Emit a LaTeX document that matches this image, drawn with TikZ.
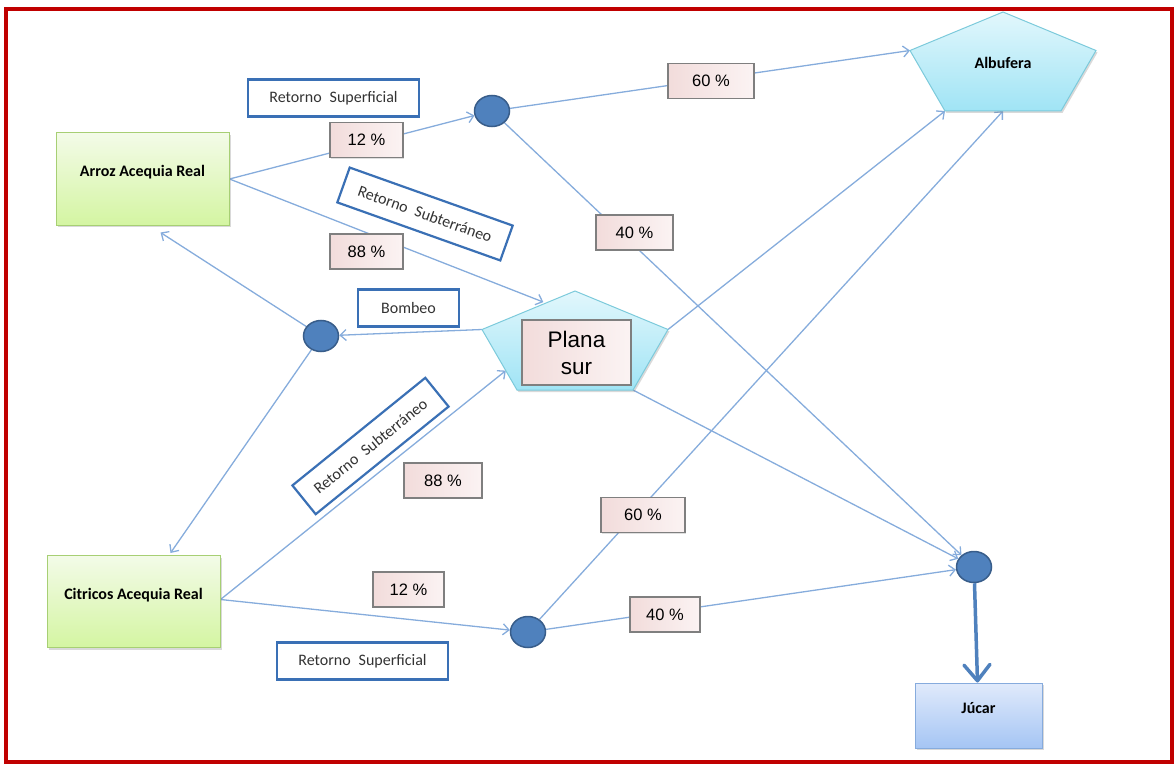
\documentclass[tikz,border=0pt]{standalone}
\usepackage{fontspec}
\setmainfont{Carlito}
\newfontfamily\arial{Liberation Sans}
\usetikzlibrary{arrows.meta,shapes.geometric,shadows,calc}

\definecolor{flujo}{HTML}{86ACDC}
\definecolor{nudo}{HTML}{4F81BD}
\definecolor{nudoborde}{HTML}{385D8A}
\definecolor{etiqueta}{HTML}{3A70B5}
\definecolor{marco}{HTML}{C00000}
\definecolor{texto}{HTML}{333333}
\definecolor{verdearriba}{HTML}{F3FBE8}
\definecolor{verdeabajo}{HTML}{D4F5A2}
\definecolor{verdeborde}{HTML}{A7CF74}
\definecolor{aguaarriba}{HTML}{E2F7FC}
\definecolor{aguaabajo}{HTML}{A0E4F5}
\definecolor{aguaborde}{HTML}{7CCADB}
\definecolor{rioarriba}{HTML}{E0EAFB}
\definecolor{rioabajo}{HTML}{A5C5F4}
\definecolor{rioborde}{HTML}{86ABDD}
\definecolor{rosa}{HTML}{F2DCDB}
\definecolor{rosaclaro}{HTML}{FBF3F3}
\definecolor{gris}{HTML}{7F7F7F}

\pgfdeclarelayer{fondo}
\pgfsetlayers{fondo,main}

\tikzset{
  flecha/.style={draw=flujo, line width=1.3pt, -{Straight Barb[length=6pt,width=11pt]}},
  grueso/.style={draw=nudo, line width=3.5pt,
    -{Straight Barb[length=16pt,width=26pt,line join=round,line cap=round]}},
  nudo/.style={ellipse, draw=nudoborde, line width=1.5pt, fill=nudo,
    minimum width=35pt, minimum height=31pt, inner sep=0pt},
  cultivo/.style={rectangle, draw=verdeborde, line width=1pt,
    top color=verdearriba, bottom color=verdeabajo,
    minimum width=173pt, minimum height=92pt,
    font=\fontsize{16}{19}\selectfont\bfseries, text height=10pt, text depth=15pt,
    drop shadow={shadow xshift=1.5pt, shadow yshift=-2pt, opacity=0.3}},
  porcentaje/.style={rectangle, draw=gris, line width=1.2pt,
    left color=rosa, right color=rosaclaro, minimum height=35pt, inner sep=0pt,
    font=\arial\fontsize{16.5}{19}\selectfont,
    drop shadow={shadow xshift=1pt, shadow yshift=-1pt, opacity=0.25}},
  retorno/.style={rectangle, draw=etiqueta, line width=2.2pt, fill=white,
    minimum height=37pt, inner sep=0pt, text=texto,
    font=\fontsize{16}{19}\selectfont},
  lago/.style={draw=aguaborde, line width=1pt, top color=aguaarriba, bottom color=aguaabajo,
    drop shadow={shadow xshift=1.5pt, shadow yshift=-2pt, opacity=0.3}},
  %% pentagono aplastado, con sus vertices con nombre
  pentagono/.pic={
    \path[lago] (0,0) coordinate (-t) -- (93,38.5) coordinate (-r)
      -- (58,99) coordinate (-bd) -- (-58,99) coordinate (-bi)
      -- (-93,38.5) coordinate (-l) -- cycle;
  }
}

\begin{document}
\begin{tikzpicture}[x=1pt, y=-1pt]
  \useasboundingbox (0,0) rectangle (1175,765);
  \draw[marco, line width=4pt] (6,9.5) rectangle (1172,762);

  %% cultivos, masas de agua y rio
  \node[cultivo] (arroz) at (142.5,179) {Arroz Acequia Real};
  \node[cultivo] (citricos) at (133.5,601.5) {Citricos Acequia Real};

  \pic (alb) at (1003,12) {pentagono};
  \node[font=\fontsize{16}{19}\selectfont\bfseries] (albufera) at (1003,63) {Albufera};

  \pic (pl) at (575,291) {pentagono};
  \node[porcentaje, minimum width=109pt, minimum height=65pt, align=center,
    font=\arial\fontsize{22.5}{27}\selectfont] (plana) at (576.5,352.5) {Plana\\sur};

  \node[cultivo, draw=rioborde, top color=rioarriba, bottom color=rioabajo,
    minimum width=127pt, minimum height=65pt] (jucar) at (978.5,715.5) {Júcar};

  %% nudos de reparto
  \node[nudo] (nudo-arroz) at (492,111) {};
  \node[nudo] (nudo-bombeo) at (321,336) {};
  \node[nudo] (nudo-citricos) at (528,632) {};
  \node[nudo] (nudo-jucar) at (974,567) {};

  %% puntos de llegada sobre los pentagonos
  \coordinate (pl-norte) at ($(pl-l)!0.66!(pl-t)+(0,-2)$);
  \coordinate (pl-oeste) at ($(pl-l)!0.68!(pl-bi)$);
  \coordinate (alb-s) at ($(alb-bi)!0.5!(alb-bd)$);

  \begin{pgfonlayer}{fondo}
    \draw[flecha] (arroz.east) -- (nudo-arroz);
    \draw[flecha] (arroz.east) -- (pl-norte);
    \draw[flecha] (nudo-arroz) -- (alb-l);
    \draw[flecha] (nudo-arroz) -- (nudo-jucar);
    \draw[flecha] (pl-l) -- (nudo-bombeo);
    \draw[flecha] (nudo-bombeo) -- ([xshift=18pt,yshift=-7pt]arroz.south);
    \draw[flecha] (nudo-bombeo) -- ([xshift=37pt,yshift=2pt]citricos.north);
    \draw[flecha] (pl-r) -- (alb-bi);
    \draw[flecha] (pl-bd) -- (nudo-jucar);
    \draw[flecha] ([yshift=2pt]citricos.east) -- (pl-oeste);
    \draw[flecha] ([yshift=2pt]citricos.east) -- (nudo-citricos);
    \draw[flecha] (nudo-citricos) -- (alb-s);
    \draw[flecha] (nudo-citricos) -- (nudo-jucar);
  \end{pgfonlayer}
  \draw[grueso] (nudo-jucar) -- (jucar);

  %% etiquetas de los retornos
  \node[retorno, minimum width=171pt] (sup-arroz) at (333.5,98) {Retorno\hspace{8pt}Superficial};
  \node[retorno, minimum width=173pt, rotate=-19.6] (sub-arroz) at (425,214) {Retorno\hspace{8pt}Subterráneo};
  \node[retorno, minimum width=101pt] (bombeo) at (408.5,308) {Bombeo};
  \node[retorno, minimum width=171pt, rotate=39] (sub-citricos) at (370.5,446) {Retorno\hspace{8pt}Subterráneo};
  \node[retorno, minimum width=171pt] (sup-citricos) at (362.5,661) {Retorno\hspace{8pt}Superficial};

  %% porcentajes
  \node[porcentaje, minimum width=73pt] (p12-arroz) at (366.5,140) {12 \%};
  \node[porcentaje, minimum width=73pt] (p88-arroz) at (366.5,251.5) {88 \%};
  \node[porcentaje, minimum width=86pt] (p60-arroz) at (711,81) {60 \%};
  \node[porcentaje, minimum width=77pt] (p40-arroz) at (634.5,232.5) {40 \%};
  \node[porcentaje, minimum width=78pt] (p88-citricos) at (443,480.5) {88 \%};
  \node[porcentaje, minimum width=84pt] (p60-citricos) at (643,515) {60 \%};
  \node[porcentaje, minimum width=71pt] (p12-citricos) at (408.5,589.5) {12 \%};
  \node[porcentaje, minimum width=70pt] (p40-citricos) at (665,614.5) {40 \%};
\end{tikzpicture}
\end{document}
